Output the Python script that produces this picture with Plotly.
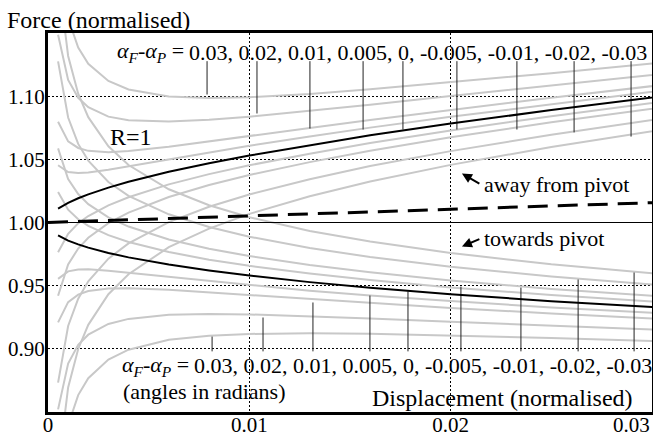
import plotly.graph_objects as go

# ---------------- data ----------------
x_samples = [0.0005, 0.001, 0.0015, 0.002, 0.003, 0.004, 0.006, 0.008, 0.01, 0.013, 0.016, 0.02, 0.025, 0.031]

# "away from pivot" family (R=1), alpha_F - alpha_P = 0 is the black curve
away_zero = [1.0109, 1.0155, 1.0192, 1.0223, 1.0276, 1.0322, 1.0401, 1.0469, 1.0530, 1.0613, 1.0690, 1.0783, 1.0890, 1.1010]
away_p030 = [1.2175, 1.1616, 1.1385, 1.1256, 1.1120, 1.1053, 1.0997, 1.0986, 1.0992, 1.1018, 1.1055, 1.1110, 1.1182, 1.1273]
away_p020 = [1.1486, 1.1129, 1.0987, 1.0912, 1.0838, 1.0809, 1.0799, 1.0813, 1.0838, 1.0883, 1.0933, 1.1001, 1.1085, 1.1185]
away_p010 = [1.0798, 1.0642, 1.0590, 1.0567, 1.0557, 1.0566, 1.0600, 1.0641, 1.0684, 1.0748, 1.0812, 1.0892, 1.0987, 1.1098]
away_p005 = [1.0453, 1.0399, 1.0391, 1.0395, 1.0417, 1.0444, 1.0500, 1.0555, 1.0607, 1.0681, 1.0751, 1.0837, 1.0939, 1.1054]
away_m005 = [0.9765, 0.9911, 0.9993, 1.0051, 1.0135, 1.0200, 1.0302, 1.0383, 1.0453, 1.0545, 1.0629, 1.0729, 1.0841, 1.0966]
away_m010 = [0.9420, 0.9668, 0.9794, 0.9879, 0.9995, 1.0078, 1.0202, 1.0297, 1.0376, 1.0478, 1.0568, 1.0674, 1.0793, 1.0922]
away_m020 = [0.8732, 0.9181, 0.9397, 0.9534, 0.9714, 0.9835, 1.0003, 1.0125, 1.0222, 1.0343, 1.0447, 1.0565, 1.0695, 1.0835]
away_m030 = [0.8043, 0.8694, 0.8999, 0.9190, 0.9432, 0.9591, 0.9805, 0.9952, 1.0068, 1.0208, 1.0325, 1.0456, 1.0598, 1.0747]

# "towards pivot" family
towards_zero = [0.9898, 0.9857, 0.9827, 0.9801, 0.9759, 0.9724, 0.9667, 0.9620, 0.9580, 0.9528, 0.9484, 0.9432, 0.9377, 0.9321]
towards_p030 = [0.7832, 0.8396, 0.8634, 0.8768, 0.8915, 0.8993, 0.9071, 0.9103, 0.9118, 0.9123, 0.9119, 0.9105, 0.9085, 0.9058]
towards_p020 = [0.8521, 0.8883, 0.9032, 0.9112, 0.9197, 0.9237, 0.9269, 0.9276, 0.9272, 0.9258, 0.9241, 0.9214, 0.9182, 0.9146]
towards_p010 = [0.9209, 0.9370, 0.9429, 0.9457, 0.9478, 0.9480, 0.9468, 0.9448, 0.9426, 0.9393, 0.9362, 0.9323, 0.9280, 0.9233]
towards_p005 = [0.9554, 0.9613, 0.9628, 0.9629, 0.9618, 0.9602, 0.9568, 0.9534, 0.9503, 0.9460, 0.9423, 0.9378, 0.9328, 0.9277]
towards_m005 = [1.0242, 1.0101, 1.0026, 0.9973, 0.9900, 0.9846, 0.9766, 0.9706, 0.9657, 0.9596, 0.9545, 0.9486, 0.9426, 0.9365]
towards_m010 = [1.0587, 1.0344, 1.0225, 1.0145, 1.0040, 0.9968, 0.9866, 0.9792, 0.9734, 0.9663, 0.9606, 0.9541, 0.9474, 0.9409]
towards_m020 = [1.1275, 1.0831, 1.0622, 1.0490, 1.0321, 1.0211, 1.0065, 0.9964, 0.9888, 0.9798, 0.9727, 0.9650, 0.9572, 0.9496]
towards_m030 = [1.1964, 1.1318, 1.1020, 1.0834, 1.0603, 1.0455, 1.0263, 1.0137, 1.0042, 0.9933, 0.9849, 0.9759, 0.9669, 0.9584]

# dashed reference curve
dash_x = [0.0, 0.01, 0.02, 0.031]
dash_y = [1.0000, 1.0055, 1.0105, 1.0162]

alpha_values = ["0.03", "0.02", "0.01", "0.005", "0", "-0.005", "-0.01", "-0.02", "-0.03"]

# leader lines (upper label -> away curves)
lead_up_x = [0.0079, 0.01038, 0.01301, 0.01565, 0.01763, 0.02031, 0.02329, 0.02613, 0.02896]
lead_up_top = 1.1277
lead_up_end = [1.1013, 1.0863, 1.0744, 1.0736, 1.0736, 1.0736, 1.0736, 1.0713, 1.0680]
# leader lines (lower label -> towards curves)
lead_lo_x = [0.00815, 0.01068, 0.01316, 0.01599, 0.01788, 0.02051, 0.02349, 0.02633, 0.02911]
lead_lo_bottom = 0.898
lead_lo_end = [0.9097, 0.9248, 0.9367, 0.9422, 0.9454, 0.9493, 0.9485, 0.9549, 0.9604]

x_ticks = [0, 0.01, 0.02]
x_ticktext = ["0", "0.01", "0.02"]
y_ticks = [0.90, 0.95, 1.00, 1.05, 1.10]
y_ticktext = ["0.90", "0.95", "1.00", "1.05", "1.10"]

FONT = "Liberation Serif, Times New Roman, serif"
GRAY = "#c8c8c8"

fig = go.Figure()

gray_curves = [away_p030, away_p020, away_p010, away_p005, away_m005, away_m010, away_m020, away_m030,
               towards_p030, towards_p020, towards_p010, towards_p005, towards_m005, towards_m010,
               towards_m020, towards_m030]
for ys in gray_curves:
    fig.add_trace(go.Scatter(x=x_samples, y=ys, mode="lines",
                             line=dict(color=GRAY, width=2), hoverinfo="skip"))

# reference line at 1.00
fig.add_hline(y=1.0, line=dict(color="black", width=1))

# leader lines
for xv, ye in zip(lead_up_x, lead_up_end):
    fig.add_trace(go.Scatter(x=[xv, xv], y=[lead_up_top, ye], mode="lines",
                             line=dict(color="#222222", width=1), hoverinfo="skip"))
for xv, ye in zip(lead_lo_x, lead_lo_end):
    fig.add_trace(go.Scatter(x=[xv, xv], y=[lead_lo_bottom, ye], mode="lines",
                             line=dict(color="#222222", width=1), hoverinfo="skip"))

# black R=1 curves
fig.add_trace(go.Scatter(x=x_samples, y=away_zero, mode="lines",
                         line=dict(color="black", width=2), hoverinfo="skip"))
fig.add_trace(go.Scatter(x=x_samples, y=towards_zero, mode="lines",
                         line=dict(color="black", width=2), hoverinfo="skip"))
fig.add_trace(go.Scatter(x=dash_x, y=dash_y, mode="lines",
                         line=dict(color="black", width=3, dash="20px,10px"), hoverinfo="skip"))

alpha_prefix = "<i>α<sub>F</sub></i>-<i>α<sub>P</sub></i> ="
alpha_list = ", ".join(alpha_values)

ann = [
    dict(text="Force (normalised)", xref="paper", yref="paper", x=-0.072, y=1.034,
         xanchor="left", yanchor="middle", font=dict(size=24)),
    dict(text=alpha_prefix, x=0.00685, y=1.1346, xanchor="right", yanchor="middle", font=dict(size=22)),
    dict(text=alpha_list, x=0.00688, y=1.1346, xanchor="left", yanchor="middle", font=dict(size=22)),
    dict(text=alpha_prefix, x=0.00710, y=0.8868, xanchor="right", yanchor="middle", font=dict(size=22)),
    dict(text=alpha_list, x=0.00713, y=0.8868, xanchor="left", yanchor="middle", font=dict(size=22)),
    dict(text="(angles in radians)", x=0.00365, y=0.8666, xanchor="left", yanchor="middle", font=dict(size=22)),
    dict(text="Displacement (normalised)", x=0.02915, y=0.8614, xanchor="right", yanchor="middle", font=dict(size=24)),
    dict(text="R=1", x=0.00300, y=1.0673, xanchor="left", yanchor="middle", font=dict(size=24)),
    dict(text="away from pivot", x=0.02155, y=1.0301, xanchor="left", yanchor="middle", font=dict(size=22)),
    dict(text="towards pivot", x=0.02155, y=0.9873, xanchor="left", yanchor="middle", font=dict(size=22)),
    dict(text="0.03", xref="paper", yref="paper", x=1.0, y=-0.034, xanchor="right", yanchor="middle",
         font=dict(size=21)),
]
for a in ann:
    a.setdefault("xref", "x")
    a.setdefault("yref", "y")
    a["showarrow"] = False
    a["font"]["family"] = FONT
    a["font"]["color"] = "black"

arrows = [
    dict(x=0.02056, y=1.0388, ax=0.02150, ay=1.0301),
    dict(x=0.02056, y=0.9810, ax=0.02150, ay=0.9873),
]
for a in arrows:
    ann.append(dict(text="", xref="x", yref="y", axref="x", ayref="y", showarrow=True,
                    arrowhead=2, arrowsize=1, arrowwidth=2, arrowcolor="black", standoff=0,
                    startstandoff=0, **a))

fig.update_layout(
    width=653, height=435,
    margin=dict(l=48, r=1, t=33, b=23),
    paper_bgcolor="white", plot_bgcolor="white",
    showlegend=False,
    font=dict(family=FONT, color="black", size=21),
    annotations=ann,
)
fig.update_xaxes(range=[0, 0.03], tickvals=x_ticks, ticktext=x_ticktext, automargin=False,
                 showline=True, linecolor="black", linewidth=3, mirror=True,
                 showgrid=True, gridcolor="black", gridwidth=1, griddash="2px,2px",
                 zeroline=False, ticks="", ticklabelstandoff=-8, tickfont=dict(size=21, family=FONT))
fig.update_yaxes(range=[0.85, 1.15], tickvals=y_ticks, ticktext=y_ticktext, automargin=False,
                 showline=True, linecolor="black", linewidth=3, mirror=True,
                 showgrid=True, gridcolor="black", gridwidth=1, griddash="2px,2px",
                 zeroline=False, ticks="", ticklabelstandoff=-4, tickfont=dict(size=21, family=FONT))

fig.write_html("out.html", config={"displayModeBar": False},
               post_script="document.body.style.margin='0';document.body.style.overflow='hidden';")
